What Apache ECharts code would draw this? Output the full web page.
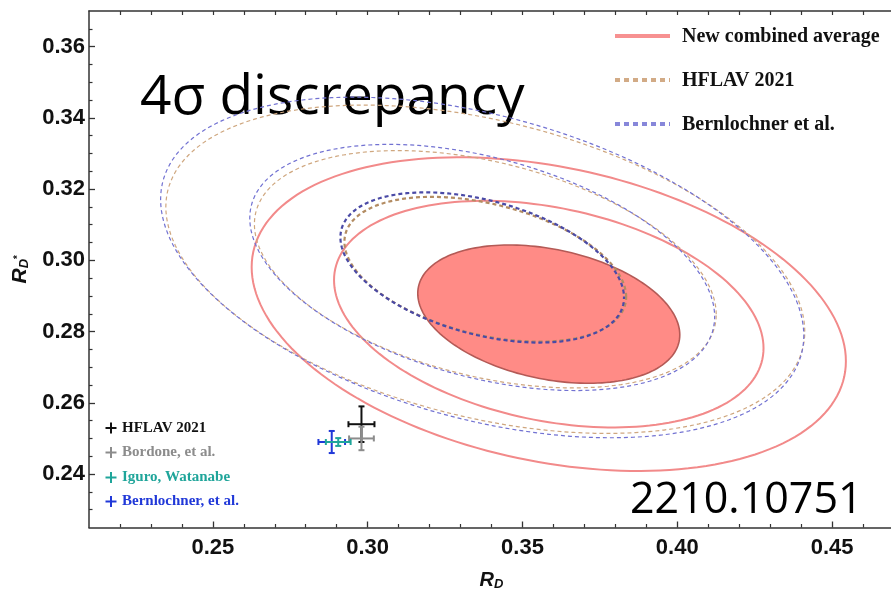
<!DOCTYPE html>
<html>
<head>
<meta charset="utf-8">
<script src="https://cdn.jsdelivr.net/npm/echarts@6/dist/echarts.min.js"></script>
<style>
  html, body { margin: 0; padding: 0; background: #ffffff; }
  #chart { width: 891px; height: 593px; }
</style>
</head>
<body>
<div id="chart"></div>
<script>
// Axis ranges and ticks
const xRange = [0.21, 0.47];
const yRange = [0.225, 0.37];
const xMajorTicks = [0.25, 0.30, 0.35, 0.40, 0.45];
const xMinorTicks = [0.22, 0.23, 0.24, 0.26, 0.27, 0.28, 0.29, 0.31, 0.32, 0.33, 0.34,
                     0.36, 0.37, 0.38, 0.39, 0.41, 0.42, 0.43, 0.44, 0.46];
const xTopTicks = [0.22, 0.23, 0.24, 0.25, 0.26, 0.27, 0.28, 0.29, 0.30, 0.31, 0.32, 0.33, 0.34,
                   0.35, 0.36, 0.37, 0.38, 0.39, 0.40, 0.41, 0.42, 0.43, 0.44, 0.45, 0.46];
const yMajorTicks = [0.24, 0.26, 0.28, 0.30, 0.32, 0.34, 0.36];
const yMinorTicks = [0.23, 0.235, 0.245, 0.25, 0.255, 0.265, 0.27, 0.275, 0.285, 0.29, 0.295,
                     0.305, 0.31, 0.315, 0.325, 0.33, 0.335, 0.345, 0.35, 0.355, 0.365];

// Averages: central values [R_D, R_D*], uncertainties, correlation
const newAvgCenter = [0.3585, 0.2849];
const newAvgSigma = [0.0279, 0.0128];
const newAvgRho = -0.30;

const hflavCenter = [0.338, 0.2975];
const hflavSigma = [0.0300, 0.0134];
const hflavRho = -0.38;

const bernCenter = [0.337, 0.2980];
const bernSigma = [0.0302, 0.0139];
const bernRho = -0.40;

// Delta chi^2 of the 1, 2, 3 sigma contours (two parameters)
const contourLevels = [2.30, 6.18, 11.83];

// SM predictions: [R_D, R_D*, err R_D, err R_D*]
const smNames = ['HFLAV 2021', 'Bordone, et al.', 'Iguro, Watanabe', 'Bernlochner, et al.'];
const smColors = ['#111111', '#8c8c8c', '#1fa59a', '#2038d8'];
const smValues = [
  [0.298, 0.254, 0.0042, 0.0050],
  [0.298, 0.250, 0.0040, 0.0033],
  [0.2905, 0.249, 0.0040, 0.0011],
  [0.2884, 0.249, 0.0043, 0.0031]
];
// drawing order of the SM crosses (teal on top of blue)
const smOrder = [0, 1, 3, 2];

const legendNames = ['New combined average', 'HFLAV 2021', 'Bernlochner et al.'];

function ellipseSeries(center, sigma, rho, levels, styleOf, z) {
  return {
    type: 'custom',
    coordinateSystem: 'cartesian2d',
    clip: true,
    silent: true,
    z: z,
    dimensions: ['x', 'y', 'sx', 'sy', 'rho', 'd2'],
    encode: { x: 0, y: 1 },
    data: levels.map(l => [center[0], center[1], sigma[0], sigma[1], rho, l]),
    renderItem: function (params, api) {
      const cx = api.value(0), cy = api.value(1);
      const sx = api.value(2), sy = api.value(3);
      const r = api.value(4), k = Math.sqrt(api.value(5));
      const n = 180;
      const pts = [];
      for (let i = 0; i < n; i++) {
        const t = 2 * Math.PI * i / n;
        const x = cx + k * sx * Math.cos(t);
        const y = cy + k * sy * (r * Math.cos(t) + Math.sqrt(1 - r * r) * Math.sin(t));
        pts.push(api.coord([x, y]));
      }
      return { type: 'polygon', shape: { points: pts }, style: styleOf(params.dataIndex) };
    }
  };
}

const redFill = ellipseSeries(newAvgCenter, newAvgSigma, newAvgRho, [contourLevels[0]],
  () => ({ fill: '#ff8b86', stroke: '#b45a56', lineWidth: 1.6 }), 2);
const redRings = ellipseSeries(newAvgCenter, newAvgSigma, newAvgRho, contourLevels.slice(1),
  () => ({ fill: 'none', stroke: '#f28a8a', lineWidth: 2 }), 3);
const tanRings = ellipseSeries(hflavCenter, hflavSigma, hflavRho, contourLevels,
  (i) => i === 0
    ? { fill: 'none', stroke: '#b38c62', lineWidth: 2.2, lineDash: [4, 3] }
    : { fill: 'none', stroke: '#cfa77f', lineWidth: 1.2, lineDash: [4, 3] }, 4);
const blueRings = ellipseSeries(bernCenter, bernSigma, bernRho, contourLevels,
  (i) => i === 0
    ? { fill: 'none', stroke: '#4a4aa6', lineWidth: 2.2, lineDash: [4, 3], lineDashOffset: 3 }
    : { fill: 'none', stroke: '#7272d2', lineWidth: 1.2, lineDash: [4, 3], lineDashOffset: 3 }, 5);

const crosses = {
  type: 'custom',
  coordinateSystem: 'cartesian2d',
  silent: true,
  z: 6,
  dimensions: ['x', 'y', 'ex', 'ey', 'c'],
  encode: { x: 0, y: 1 },
  data: smOrder.map(i => smValues[i].concat([i])),
  renderItem: function (params, api) {
    const x = api.value(0), y = api.value(1), ex = api.value(2), ey = api.value(3);
    const color = smColors[api.value(4)];
    const l = api.coord([x - ex, y]), r = api.coord([x + ex, y]);
    const t = api.coord([x, y + ey]), b = api.coord([x, y - ey]);
    const cap = 3;
    const st = { stroke: color, lineWidth: 2 };
    const seg = (a, c) => ({ type: 'line', shape: { x1: a[0], y1: a[1], x2: c[0], y2: c[1] }, style: st });
    return {
      type: 'group',
      children: [
        seg(l, r), seg(t, b),
        seg([l[0], l[1] - cap], [l[0], l[1] + cap]),
        seg([r[0], r[1] - cap], [r[0], r[1] + cap]),
        seg([t[0] - cap, t[1]], [t[0] + cap, t[1]]),
        seg([b[0] - cap, b[1]], [b[0] + cap, b[1]])
      ]
    };
  }
};

const axisLineStyle = { color: '#333333', width: 1.5 };
const tickFont = { color: '#111111', fontFamily: 'Liberation Sans', fontWeight: 'bold', fontSize: 22 };

// Legend drawn as graphic elements
const legendGraphics = [];
const legendRows = [36, 80, 124];
const legendLineStyles = [
  { stroke: '#f79191', lineWidth: 4 },
  { stroke: '#d2ab86', lineWidth: 4, lineDash: [5, 4] },
  { stroke: '#8787da', lineWidth: 4, lineDash: [5, 4] }
];
legendNames.forEach((name, i) => {
  legendGraphics.push({
    type: 'line', silent: true,
    shape: { x1: 615, y1: legendRows[i], x2: 670, y2: legendRows[i] },
    style: legendLineStyles[i]
  });
  legendGraphics.push({
    type: 'text', silent: true, x: 682, y: legendRows[i] + 1,
    style: { text: name, fill: '#111111', font: 'bold 20px "Liberation Serif"', textVerticalAlign: 'middle' }
  });
});
const smRows = [428, 452.5, 477.5, 501.5];
smNames.forEach((name, i) => {
  const y = smRows[i];
  const c = smColors[i];
  legendGraphics.push({ type: 'line', silent: true, shape: { x1: 105.5, y1: y, x2: 116.5, y2: y }, style: { stroke: c, lineWidth: 2 } });
  legendGraphics.push({ type: 'line', silent: true, shape: { x1: 111, y1: y - 5.5, x2: 111, y2: y + 5.5 }, style: { stroke: c, lineWidth: 2 } });
  legendGraphics.push({
    type: 'text', silent: true, x: 122, y: y,
    style: { text: name, fill: c, font: 'bold 15px "Liberation Serif"', textVerticalAlign: 'middle' }
  });
});
legendGraphics.push({
  type: 'text', silent: true, x: 140, y: 126,
  style: { text: '4σ discrepancy', fill: '#000000', font: '55px "Open Sans"', textVerticalAlign: 'bottom' }
});
legendGraphics.push({
  type: 'text', silent: true, x: 630, y: 522,
  style: { text: '2210.10751', fill: '#000000', font: '43px "Open Sans"', textVerticalAlign: 'bottom' }
});

const chart = echarts.init(document.getElementById('chart'), null, { renderer: 'canvas' });
chart.setOption({
  animation: false,
  backgroundColor: '#ffffff',
  grid: { left: 89, top: 11, width: 805, height: 516.5, containLabel: false, outerBoundsMode: 'none' },
  xAxis: [
    {
      type: 'value', min: xRange[0], max: xRange[1], position: 'bottom',
      axisLine: { show: true, lineStyle: axisLineStyle },
      axisTick: { show: true, inside: true, length: 6, customValues: xMajorTicks, lineStyle: { color: '#333', width: 1.3 } },
      axisLabel: Object.assign({ show: true, margin: 9, customValues: xMajorTicks, formatter: v => v.toFixed(2) }, tickFont),
      splitLine: { show: false },
      name: '{r|R}{d|D}',
      nameLocation: 'middle',
      nameGap: 39,
      nameTextStyle: {
        rich: {
          r: { fontFamily: 'Liberation Sans', fontWeight: 'bold', fontStyle: 'italic', fontSize: 20, color: '#111', lineHeight: 24, verticalAlign: 'bottom' },
          d: { fontFamily: 'Liberation Sans', fontWeight: 'bold', fontStyle: 'italic', fontSize: 13, color: '#111', lineHeight: 12, verticalAlign: 'bottom' }
        }
      }
    },
    {
      type: 'value', min: xRange[0], max: xRange[1], position: 'bottom',
      axisLine: { show: false },
      axisTick: { show: true, inside: true, length: 3.5, customValues: xMinorTicks, lineStyle: { color: '#333', width: 1.2 } },
      axisLabel: { show: false },
      splitLine: { show: false }
    },
    {
      type: 'value', min: xRange[0], max: xRange[1], position: 'top',
      axisLine: { show: true, lineStyle: axisLineStyle },
      axisTick: { show: true, inside: true, length: 4, customValues: xTopTicks, lineStyle: { color: '#333', width: 1.2 } },
      axisLabel: { show: false },
      splitLine: { show: false }
    }
  ],
  yAxis: [
    {
      type: 'value', min: yRange[0], max: yRange[1], position: 'left',
      axisLine: { show: true, lineStyle: axisLineStyle },
      axisTick: { show: true, inside: true, length: 6, customValues: yMajorTicks, lineStyle: { color: '#333', width: 1.3 } },
      axisLabel: Object.assign({ show: true, margin: 4, customValues: yMajorTicks, formatter: v => v.toFixed(2) }, tickFont),
      splitLine: { show: false },
      name: '{r|R}{d|D}{s|*}',
      nameLocation: 'middle',
      nameRotate: 90,
      nameGap: 58,
      nameTextStyle: {
        rich: {
          r: { fontFamily: 'Liberation Sans', fontWeight: 'bold', fontStyle: 'italic', fontSize: 21, color: '#111', lineHeight: 26, verticalAlign: 'bottom' },
          d: { fontFamily: 'Liberation Sans', fontWeight: 'bold', fontStyle: 'italic', fontSize: 13, color: '#111', lineHeight: 12, verticalAlign: 'bottom' },
          s: { fontFamily: 'Liberation Sans', fontWeight: 'bold', fontSize: 10, color: '#111', lineHeight: 16, verticalAlign: 'middle' }
        }
      }
    },
    {
      type: 'value', min: yRange[0], max: yRange[1], position: 'left',
      axisLine: { show: false },
      axisTick: { show: true, inside: true, length: 3.5, customValues: yMinorTicks, lineStyle: { color: '#333', width: 1.2 } },
      axisLabel: { show: false },
      splitLine: { show: false }
    }
  ],
  series: [redFill, redRings, tanRings, blueRings, crosses],
  graphic: legendGraphics
});
</script>
</body>
</html>
